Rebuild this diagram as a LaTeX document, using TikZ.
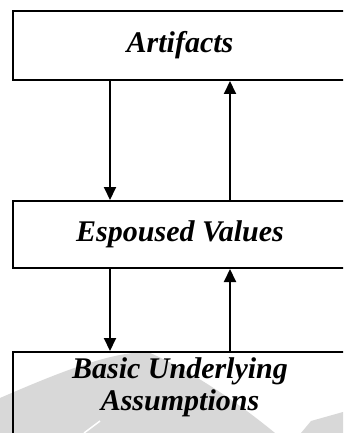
\documentclass[tikz,border=0pt]{standalone}
\usepackage{fontspec}
\setmainfont{Liberation Serif}
\usetikzlibrary{arrows.meta}
\definecolor{washgray}{RGB}{216,216,216}
\tikzset{
  layertext/.style={font=\fontsize{30}{32}\selectfont\bfseries\itshape},
  layerbox/.style={draw=black, line width=2pt, minimum width=334pt,
    align=center, inner sep=0pt, layertext},
  flow/.style={draw=black, line width=2pt,
    -{Triangle[length=13pt,width=12pt]}},
}
\begin{document}
\begin{tikzpicture}[x=1pt,y=-1pt]
  \useasboundingbox (0,0) rectangle (343,433);
  \clip (0,0) rectangle (343,433);
  \fill[white] (0,0) rectangle (343,433);

  % light grey wash behind the lowest layer
  \fill[washgray] (0,433) -- (0,398)
    .. controls (60,372) and (110,352) .. (148,352)
    .. controls (180,366) and (225,392) .. (275,433) -- cycle;
  \fill[washgray] (301,433) -- (311,421) -- (343,412) -- (343,433) -- cycle;
  \draw[white, line width=1.5pt] (84,433) -- (100,421);

  % the three layers
  \node[layerbox, minimum height=69pt] (art) at (180,45.5) {Artifacts};
  \node[layerbox, minimum height=67pt] (esp) at (180,234.5) {Espoused Values};
  \node[layerbox, minimum height=90pt] (bua) at (180,397) {};
  \node[layertext, align=center, inner sep=0pt]
    (buatext) at (180,387) {Basic Underlying\\Assumptions};

  % columns for the downward and upward links
  \coordinate (down) at (110,0);
  \coordinate (up) at (230,0);

  \draw[flow] (down |- art.south) -- (down |- esp.north);
  \draw[flow] (up |- esp.north) -- (up |- art.south);
  \draw[flow] (down |- esp.south) -- (down |- bua.north);
  \draw[flow] (up |- bua.north) -- (up |- esp.south);
\end{tikzpicture}
\end{document}
